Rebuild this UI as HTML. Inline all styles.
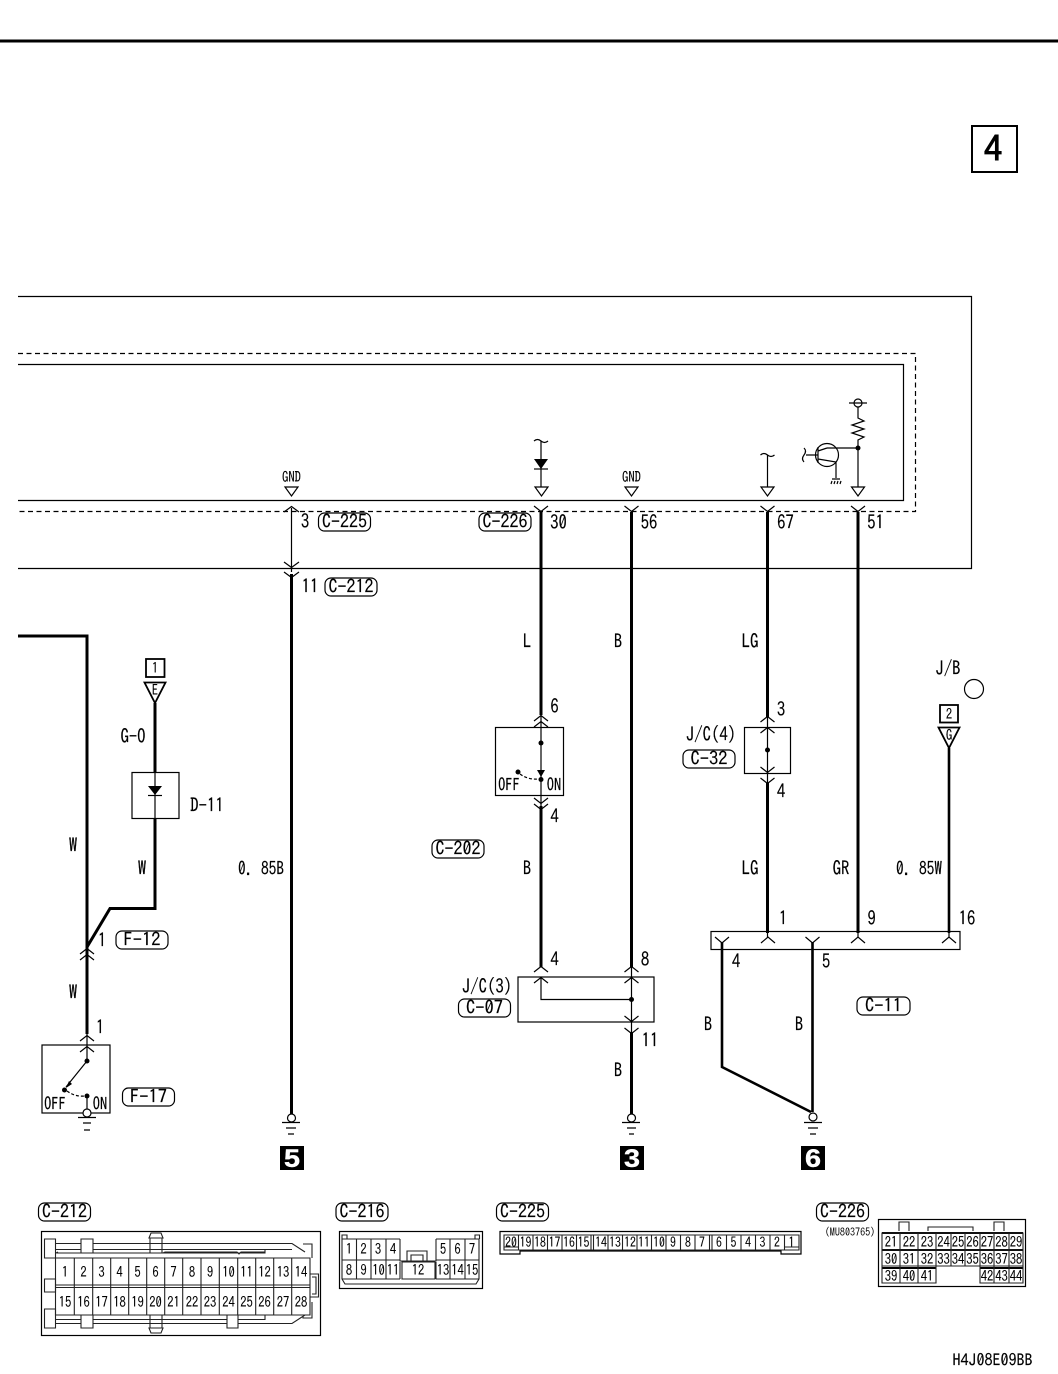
<!DOCTYPE html>
<html><head><meta charset="utf-8"><style>
html,body{margin:0;padding:0;background:#fff}
svg{display:block}
text{font-family:"IPAGothic","Liberation Sans",sans-serif;font-size:19px;fill:#000;text-anchor:middle;transform-box:fill-box;transform-origin:center;transform:translateY(1px) scaleX(.88);stroke:#000;stroke-width:.15}
.n{font-size:18px;transform:none}
.s{font-size:15px;transform:scaleX(.84);stroke-width:.1}
.o{font-size:17px;transform:scaleX(.85)}
.x{font-size:14px;transform:scaleX(.84);stroke-width:.1}
.m{font-size:11px;transform:scaleX(.92);stroke-width:0}
.w{font-family:"Liberation Sans",sans-serif;font-size:25px;font-weight:bold;fill:#fff;stroke:#fff;stroke-width:.4;transform:scaleX(1.15)}
.l{fill:none;stroke:#000;stroke-width:1.2}
.t{fill:none;stroke:#000;stroke-width:3}
.g{fill:none;stroke:#222;stroke-width:1.1}
.p{fill:#fff;stroke:#000;stroke-width:1.2}
</style></head><body>
<svg width="1058" height="1374" viewBox="0 0 1058 1374" xmlns="http://www.w3.org/2000/svg">
<rect x="0" y="39.5" width="1058" height="3" fill="#000"/>
<rect x="972" y="126" width="45" height="46" fill="none" stroke="#000" stroke-width="2"/>
<text x="993" y="162" style="font-size:36px;stroke-width:1;transform:none">4</text>

<path class="l" d="M18 296.5H971.5V568.5H18"/>
<path class="l" d="M18 364.5H903.5V500.5H18"/>
<path class="l" style="stroke-dasharray:5 3.5" d="M18 353.5H915.5V511.5H18"/>

<!-- internal symbols -->
<path class="l" d="M285 487h13l-6.500 9z M535 487h13l-6.500 9z M625 487h13l-6.500 9z M761 487h13l-6.500 9z M851.500 487h13l-6.500 9z"/>
<text class="s" x="291.500" y="482">GND</text><text class="s" x="631.500" y="482">GND</text>
<path class="l" d="M541 441V487M767.500 455V487M858 448V487M858 407V418l6 3-12 4 12 4-12 4 12 4-6 3V448M827 448H858"/>
<path class="l" d="M534 441q3.500-3 7 0t7 0M760.500 455q3.500-3 7 0t7 0"/>
<path d="M534 459h14l-7 10z"/><path class="l" d="M534 469h14"/>
<circle class="l" cx="827" cy="455" r="11.500"/><circle class="l" cx="858" cy="403" r="4"/>
<path class="l" d="M806 455h12M818 447v16M818 451l9-3M818 459l18 3V478M849 403h18M804 448q3 3 0 7t0 7"/>
<circle cx="858" cy="448" r="2.500"/>
<path class="l" d="M832 479h8M832 481l-1 3M835 481l-1 3M838 481l-1 3M841 481l-1 3"/>

<!-- main wires -->
<path class="t" d="M18 636H87V1034"/>
<path class="t" d="M155 703V772M155 818V908.500H110L87 947"/>
<path class="t" d="M291.500 574V1114M541 512V715M541 806V967M631.500 512V967M631.500 1032V1114M767.500 512V717M767.500 783V933M858 512V933"/>
<path class="t" style="stroke-width:2.600" d="M949 748V933M722 942V1067L811 1112M812.500 942V1112"/>
<path class="l" d="M291.500 508V572M541 715V806M155 772V818M767.500 717V783M631.500 967V1032M87 1034V1061M767.500 933V938M858 933V938M949 933V938"/>
<path class="l" d="M541 977V999.500H631.500"/>

<!-- forks -->
<path class="l" d="M284 512l7.500-5.500 7.500 5.500M284 562l7.500 5.500 7.500-5.500M284 572l7.500 5.500 7.500-5.500"/>
<path class="l" d="M534 506l7 5.500 7-5.500M624.500 506l7 5.500 7-5.500M760.500 506l7 5.500 7-5.500M851 506l7 5.500 7-5.500"/>
<path class="l" d="M534 721l7-5.500 7 5.500M534 727l7-5.500 7 5.500M534 798l7 5.500 7-5.500M534 804l7 5.500 7-5.500"/>
<path class="l" d="M534 972l7-5.500 7 5.500M534 983l7-5.500 7 5.500M624.500 972l7-5.500 7 5.500M624.500 983l7-5.500 7 5.500M624.500 1016l7 5.500 7-5.500M624.500 1028l7 5.500 7-5.500"/>
<path class="l" d="M760.500 722l7-5.500 7 5.500M760.500 733l7-5.500 7 5.500M760.500 767l7 5.500 7-5.500M760.500 778l7 5.500 7-5.500"/>
<path class="l" d="M80 954l7-5.500 7 5.500M80 960l7-5.500 7 5.500M80 1041l7-5.500 7 5.500M80 1052l7-5.500 7 5.500"/>
<path class="l" d="M715 937l7 6 7-6M761 943l7-6 7 6M805.500 937l7 6 7-6M851 943l7-6 7 6M942 943l7-6 7 6"/>

<!-- boxes -->
<rect class="l" x="132" y="772.500" width="47" height="46"/>
<path d="M148 786h14l-7 9z"/><path class="l" d="M148 795.500h14"/>
<rect class="l" x="42" y="1045" width="68" height="68"/>
<rect class="l" x="495.500" y="727.500" width="68" height="68"/>
<rect class="l" x="518" y="977" width="136" height="45"/>
<rect class="l" x="744.500" y="727.500" width="46" height="46"/>
<rect class="l" x="711" y="931.500" width="249" height="18"/>
<circle cx="87" cy="1061" r="2.500"/><circle cx="64.500" cy="1090" r="2.500"/><circle cx="87" cy="1096" r="2.500"/>
<path class="l" d="M87 1061L66 1087M87 1096V1109"/><path d="M66 1088l3-7 3 3z"/>
<path class="l" style="stroke-dasharray:3 2" d="M67 1091q8 6 18 5"/>
<circle cx="541" cy="743" r="2.500"/><circle cx="541" cy="779.500" r="2.500"/><circle cx="518" cy="772" r="2.500"/>
<path d="M537 770h8l-4 7z"/>
<path class="l" style="stroke-dasharray:3 2" d="M520 774q8 6 19 5"/>
<circle cx="631.500" cy="999.500" r="2.500"/><circle cx="767.500" cy="750" r="2.500"/>
<text class="o" x="55" y="1110">OFF</text><text class="o" x="100" y="1110">ON</text>
<text class="o" x="509" y="791">OFF</text><text class="o" x="554" y="791">ON</text>

<!-- grounds -->
<path class="l" d="M78 1117.500h18M83 1123h8M84 1130h6M282 1122.500h18M286 1128h10M288 1134h6M622 1122.500h18M627 1128h9M629 1134h5M804 1122.500h18M808 1128h10M810 1134h6"/>
<g fill="#fff" stroke="#000" stroke-width="1.200"><circle cx="87" cy="1113" r="4"/><circle cx="291.500" cy="1118" r="4"/><circle cx="631.500" cy="1118" r="4"/><circle cx="813" cy="1117" r="4"/></g>
<rect x="280" y="1146" width="24" height="24"/><text class="w" x="292" y="1167">5</text>
<rect x="620" y="1146" width="24" height="24"/><text class="w" x="632" y="1167">3</text>
<rect x="801" y="1146" width="24" height="24"/><text class="w" x="813" y="1167">6</text>

<!-- tag boxes -->
<rect x="146" y="659" width="18.500" height="18" fill="none" stroke="#000" stroke-width="1.800"/><text class="s" x="155" y="673">1</text>
<path d="M144.500 682.500h21L155 703z" fill="none" stroke="#000" stroke-width="1.800"/><text class="s" x="155" y="695">E</text>
<rect x="940" y="705" width="18" height="17.500" fill="none" stroke="#000" stroke-width="1.800"/><text class="s" x="949" y="719">2</text>
<path d="M938.500 727.500h21L949 748z" fill="none" stroke="#000" stroke-width="1.800"/><text class="s" x="949" y="740">G</text>
<circle class="l" cx="974" cy="689" r="9.500"/>

<!-- pills -->
<g>
<rect class="l" x="318.500" y="513" width="52" height="18" rx="6"/>
<rect class="l" x="479" y="513" width="52" height="18" rx="6"/>
<rect class="l" x="325" y="578" width="52" height="18" rx="6"/>
<rect class="l" x="116" y="931" width="52" height="18" rx="6"/>
<rect class="l" x="122.500" y="1088" width="52" height="18" rx="6"/>
<rect class="l" x="432" y="840" width="52" height="18" rx="6"/>
<rect class="l" x="458.500" y="999" width="52" height="18" rx="6"/>
<rect class="l" x="683" y="750" width="52" height="18" rx="6"/>
<rect class="l" x="857" y="997" width="53" height="18" rx="6"/>
<rect class="l" x="38.500" y="1203" width="52" height="18" rx="6"/>
<rect class="l" x="336" y="1203" width="52" height="18" rx="6"/>
<rect class="l" x="496.500" y="1203" width="52" height="18" rx="6"/>
<rect class="l" x="816.500" y="1203" width="52" height="18" rx="6"/>
</g>
<text class="n" x="344.500" y="528" textLength="45" lengthAdjust="spacingAndGlyphs">C−225</text>
<text class="n" x="505" y="528" textLength="45" lengthAdjust="spacingAndGlyphs">C−226</text>
<text class="n" x="351" y="593" textLength="45" lengthAdjust="spacingAndGlyphs">C−212</text>
<text class="n" x="142" y="946" textLength="37" lengthAdjust="spacingAndGlyphs">F−12</text>
<text class="n" x="148.500" y="1103" textLength="37" lengthAdjust="spacingAndGlyphs">F−17</text>
<text class="n" x="458" y="855" textLength="45" lengthAdjust="spacingAndGlyphs">C−202</text>
<text class="n" x="484.500" y="1014" textLength="37" lengthAdjust="spacingAndGlyphs">C−07</text>
<text class="n" x="709" y="765" textLength="37" lengthAdjust="spacingAndGlyphs">C−32</text>
<text class="n" x="883.500" y="1012" textLength="37" lengthAdjust="spacingAndGlyphs">C−11</text>
<text class="n" x="64.500" y="1218" textLength="45" lengthAdjust="spacingAndGlyphs">C−212</text>
<text class="n" x="362" y="1218" textLength="45" lengthAdjust="spacingAndGlyphs">C−216</text>
<text class="n" x="522.500" y="1218" textLength="45" lengthAdjust="spacingAndGlyphs">C−225</text>
<text class="n" x="842.500" y="1218" textLength="45" lengthAdjust="spacingAndGlyphs">C−226</text>

<!-- labels -->
<text x="305" y="527">3</text><text x="558.500" y="528">30</text><text x="649" y="528">56</text><text x="785.500" y="528">67</text><text x="875.500" y="528">51</text>
<text x="310" y="592">11</text>
<text x="527" y="647">L</text><text x="618" y="647">B</text><text x="750" y="647">LG</text>
<text x="948" y="674">J/B</text>
<text x="133" y="742">G−O</text><text x="207" y="811">D−11</text>
<text x="554.500" y="712">6</text><text x="554.500" y="822">4</text><text x="781" y="715">3</text><text x="781" y="797">4</text>
<text x="711" y="740">J/C(4)</text>
<text x="73" y="851">W</text><text x="142" y="874">W</text><text class="n" x="261" y="875" textLength="46" lengthAdjust="spacingAndGlyphs">0. 85B</text>
<text x="527" y="874">B</text><text x="750" y="874">LG</text><text x="841" y="874">GR</text><text class="n" x="919" y="875" textLength="46" lengthAdjust="spacingAndGlyphs">0. 85W</text>
<text x="783" y="924">1</text><text x="871.500" y="924">9</text><text x="967" y="924">16</text>
<text x="102" y="946">1</text><text x="73" y="998">W</text><text x="100" y="1033">1</text>
<text x="554.500" y="965">4</text><text x="645" y="965">8</text><text x="487" y="992">J/C(3)</text>
<text x="736" y="967">4</text><text x="826" y="967">5</text><text x="708" y="1030">B</text><text x="799" y="1030">B</text>
<text x="650" y="1046">11</text><text x="618" y="1076">B</text>
<text class="n" x="992.500" y="1366" style="font-size:16px">H4J08E09BB</text>

<!-- C-212 -->
<rect class="l" x="41.500" y="1231.500" width="279" height="104"/>
<path class="g" d="M44.500 1239h11v19h-11zM81 1239h12v14H81zM44.500 1279h11v13h-11zM44.500 1309h11v19h-11zM81 1315h12v13H81zM227 1315h11v13h-11z"/>
<path class="g" d="M56 1243.500H81M93 1243.500H292L305 1252M56 1249.500H81M93 1249.500H292M57 1253H81M93 1253H265V1249M56 1253L58 1252M163 1253l2-1H237l2 2 2-2H265"/>
<path class="g" d="M56 1319.500H81M93 1319.500H227M238 1319.500H265V1315M56 1323.500H81M93 1323.500H227M238 1323.500H292L305 1315"/>
<path class="g" d="M149 1238l2-5h10l2 5zM149 1238h14M149 1328l2 5h10l2-5zM149 1328h14M150 1238v15M162 1238v15M150 1315v13M162 1315v13"/>
<path class="g" d="M303 1244h9v14M303 1316v2h9V1302M310 1274h8.500v23H310M312 1277h4v17h-4"/>
<path class="g" d="M55.500 1258H310V1315H55.500zM55.500 1285H310M55.500 1287.500H310M74.300 1258V1315M92.700 1258V1315M110.700 1258V1315M128.700 1258V1315M146.700 1258V1315M164.700 1258V1315M182.700 1258V1315M201 1258V1315M219.300 1258V1315M237.700 1258V1315M255.700 1258V1315M273.700 1258V1315M291.700 1258V1315"/>
<g>
<text class="s" x="65" y="1277">1</text><text class="s" x="83.500" y="1277">2</text><text class="s" x="101.500" y="1277">3</text><text class="s" x="119.500" y="1277">4</text><text class="s" x="137.500" y="1277">5</text><text class="s" x="155.500" y="1277">6</text><text class="s" x="173.500" y="1277">7</text><text class="s" x="192" y="1277">8</text><text class="s" x="210" y="1277">9</text><text class="s" x="228.500" y="1277">10</text><text class="s" x="246.500" y="1277">11</text><text class="s" x="264.500" y="1277">12</text><text class="s" x="283" y="1277">13</text><text class="s" x="301" y="1277">14</text>
<text class="s" x="65" y="1307">15</text><text class="s" x="83.500" y="1307">16</text><text class="s" x="101.500" y="1307">17</text><text class="s" x="119.500" y="1307">18</text><text class="s" x="137.500" y="1307">19</text><text class="s" x="155.500" y="1307">20</text><text class="s" x="173.500" y="1307">21</text><text class="s" x="192" y="1307">22</text><text class="s" x="210" y="1307">23</text><text class="s" x="228.500" y="1307">24</text><text class="s" x="246.500" y="1307">25</text><text class="s" x="264.500" y="1307">26</text><text class="s" x="283" y="1307">27</text><text class="s" x="301" y="1307">28</text>
</g>

<!-- C-216 -->
<rect class="l" x="339.500" y="1231.500" width="143" height="57"/>
<path class="g" d="M342 1239V1235h5v4M475 1239V1235h4.500v4M342 1239H400M436 1239H479M342 1239V1279l3 5H476l3-5V1239M342 1260H400M342 1279H400M356.500 1239V1279M371 1239V1279M386 1239V1279M400 1239V1261H436V1239M436 1260H479M436 1279H479M450 1239V1279M465 1239V1279M402 1262H435V1279H402zM407 1261V1251H427V1261M411 1261V1255H423V1261M400 1279V1262M436 1279V1262"/>
<text class="s" x="349" y="1254">1</text><text class="s" x="363.500" y="1254">2</text><text class="s" x="378" y="1254">3</text><text class="s" x="393" y="1254">4</text><text class="s" x="443" y="1254">5</text><text class="s" x="457.500" y="1254">6</text><text class="s" x="472" y="1254">7</text>
<text class="s" x="349" y="1275">8</text><text class="s" x="363.500" y="1275">9</text><text class="s" x="378.500" y="1275">10</text><text class="s" x="393" y="1275">11</text><text class="s" x="418" y="1275">12</text><text class="s" x="443" y="1275">13</text><text class="s" x="457.500" y="1275">14</text><text class="s" x="472" y="1275">15</text>

<!-- C-225 -->
<path class="l" d="M500 1231.500H801V1254H781V1251H520V1254H500z"/>
<path class="g" d="M504 1235H799V1250H504zM518.500 1235V1250M533 1235V1250M547.500 1235V1250M562 1235V1250M576.500 1235V1250M591 1235V1250M593.500 1235V1250M608 1235V1250M622.500 1235V1250M637 1235V1250M651.500 1235V1250M666 1235V1250M680.500 1235V1250M695 1235V1250M709.500 1235V1250M712 1235V1250M726.500 1235V1250M741 1235V1250M755.500 1235V1250M770 1235V1250M784.500 1235V1250M504 1247H518.500M784.500 1247H799"/>
<g>
<text class="x" x="511" y="1247">20</text><text class="x" x="525.500" y="1247">19</text><text class="x" x="540" y="1247">18</text><text class="x" x="554.500" y="1247">17</text><text class="x" x="569" y="1247">16</text><text class="x" x="583.500" y="1247">15</text><text class="x" x="601" y="1247">14</text><text class="x" x="615" y="1247">13</text><text class="x" x="630" y="1247">12</text><text class="x" x="644" y="1247">11</text><text class="x" x="659" y="1247">10</text><text class="x" x="673" y="1247">9</text><text class="x" x="688" y="1247">8</text><text class="x" x="702" y="1247">7</text><text class="x" x="719" y="1247">6</text><text class="x" x="733.500" y="1247">5</text><text class="x" x="748" y="1247">4</text><text class="x" x="762.500" y="1247">3</text><text class="x" x="777" y="1247">2</text><text class="x" x="791.500" y="1247">1</text>
</g>

<!-- C-226 -->
<text class="m" x="850" y="1236">(MU803765)</text>
<rect class="l" x="878.500" y="1219.500" width="147" height="67"/>
<path class="g" d="M899 1231v-9h10v9M928 1231v-4h45v4M994 1231v-9h10v9"/>
<path d="M882 1232h141v2H882zM882 1249h141v2H882zM882 1267h54v2h-54zM980 1267h43v2h-43z"/>
<path class="g" d="M882 1233H1023V1266H882zM900 1233V1283M918 1233V1283M936 1233V1283M951 1233V1266M965 1233V1266M980 1233V1283M994 1233V1283M1009 1233V1283M882 1250H1023M882 1266V1283H936V1266M980 1266V1283H1023V1266"/>
<g>
<text class="s" x="891" y="1247">21</text><text class="s" x="909" y="1247">22</text><text class="s" x="927" y="1247">23</text><text class="s" x="943.500" y="1247">24</text><text class="s" x="958" y="1247">25</text><text class="s" x="972.500" y="1247">26</text><text class="s" x="987" y="1247">27</text><text class="s" x="1001.500" y="1247">28</text><text class="s" x="1016" y="1247">29</text>
<text class="s" x="891" y="1264">30</text><text class="s" x="909" y="1264">31</text><text class="s" x="927" y="1264">32</text><text class="s" x="943.500" y="1264">33</text><text class="s" x="958" y="1264">34</text><text class="s" x="972.500" y="1264">35</text><text class="s" x="987" y="1264">36</text><text class="s" x="1001.500" y="1264">37</text><text class="s" x="1016" y="1264">38</text>
<text class="s" x="891" y="1281">39</text><text class="s" x="909" y="1281">40</text><text class="s" x="927" y="1281">41</text><text class="s" x="987" y="1281">42</text><text class="s" x="1001.500" y="1281">43</text><text class="s" x="1016" y="1281">44</text>
</g>
</svg>
</body></html>
